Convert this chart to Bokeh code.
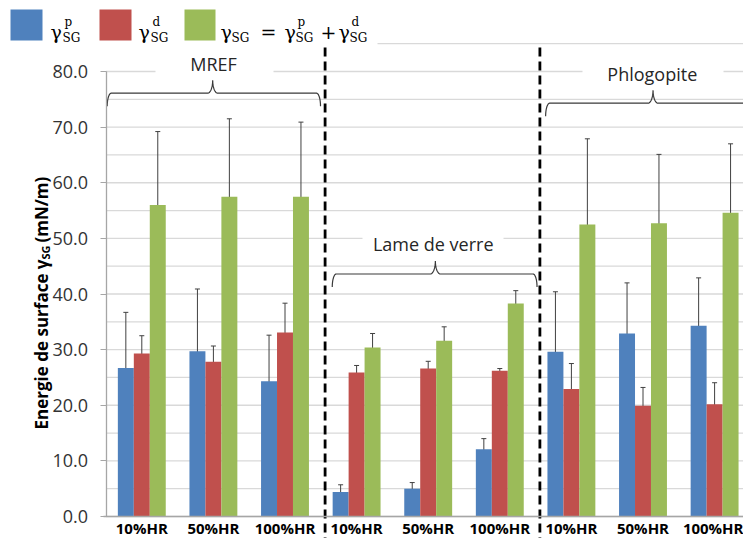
import math
from bokeh.plotting import figure
from bokeh.models import (Range1d, LinearAxis, FixedTicker, NumeralTickFormatter,
                          Whisker, TeeHead, ColumnDataSource)
from bokeh.core.properties import value
from bokeh.embed import file_html
from bokeh.resources import INLINE

# ---------------- data ----------------
substrates = ["MREF", "Lame de verre", "Phlogopite"]
humidity_labels = ["10%HR", "50%HR", "100%HR", "10%HR", "50%HR", "100%HR",
                   "10%HR", "50%HR", "100%HR"]
gamma_p = [26.7, 29.7, 24.3, 4.4, 5.0, 12.1, 29.6, 32.9, 34.3]
gamma_p_err = [10.0, 11.2, 8.3, 1.3, 1.1, 1.9, 10.8, 9.1, 8.6]
gamma_d = [29.3, 27.8, 33.1, 25.9, 26.6, 26.2, 22.9, 19.9, 20.2]
gamma_d_err = [3.2, 2.85, 5.25, 1.25, 1.3, 0.4, 4.6, 3.3, 3.85]
gamma_t = [56.0, 57.5, 57.5, 30.4, 31.6, 38.3, 52.5, 52.7, 54.6]
gamma_t_err = [13.2, 14.0, 13.4, 2.5, 2.5, 2.3, 15.4, 12.4, 12.4]
y_ticks = [0, 10, 20, 30, 40, 50, 60, 70, 80]
grid_levels = [0, 5, 10, 15, 20, 25, 30, 35, 40, 45, 50, 55, 60, 65, 70, 75, 80, 85]

# ---------------- geometry helpers (canvas pixels -> data) ----------------
W, H = 743, 538
PX0, UX = 105.5, 71.6
PY0 = 516.0
UY = (PY0 - 71.0) / 80.0


def px2x(px):
    return (px - PX0) / UX


def py2y(py):
    return (PY0 - py) / UY


def dpx(d):
    return d / UX


def dpy(d):
    return d / UY


p = figure(width=W, height=H, output_backend="svg", toolbar_location=None,
           x_range=Range1d(px2x(0), px2x(W)),
           y_range=Range1d(py2y(H), py2y(0)),
           x_axis_location=None, y_axis_location=None,
           min_border=0, min_border_left=0, min_border_right=0,
           min_border_top=0, min_border_bottom=0,
           outline_line_color=None, background_fill_color="white")
p.grid.visible = False

FONT = value("Open Sans")
MATH = value("DejaVu Serif")

# gridlines
n = len(grid_levels)
p.segment(x0=[0] * n, y0=grid_levels, x1=[px2x(760)] * n, y1=grid_levels,
          line_color="#d9d9d9", line_width=1.3, level="underlay")

# legend white box
p.quad(left=[px2x(-5)], right=[px2x(377)], bottom=[py2y(45)], top=[py2y(-5)],
       fill_color="white", line_color=None, level="underlay")

# bars
blue, red, green = "#4F81BD", "#C0504D", "#9BBB59"
bw = 0.223
xc = [i + 0.5 for i in range(len(gamma_p))]
series = [(gamma_p, gamma_p_err, -bw, blue),
          (gamma_d, gamma_d_err, 0.0, red),
          (gamma_t, gamma_t_err, bw, green)]
for vals, errs, off, col in series:
    xs = [x + off for x in xc]
    p.vbar(x=xs, top=vals, width=bw, bottom=0, fill_color=col, line_color=None)
    src = ColumnDataSource(dict(x=xs,
                                upper=[v + e for v, e in zip(vals, errs)],
                                lower=[v - e for v, e in zip(vals, errs)]))
    p.add_layout(Whisker(base="x", upper="upper", lower="lower", source=src,
                         dimension="height", line_color="#404040", line_width=1,
                         upper_head=TeeHead(size=5, line_color="#404040", line_width=1),
                         lower_head=TeeHead(size=5, line_color="#404040", line_width=1)))

# dashed separators
p.segment(x0=[3.06, 6.06], y0=[py2y(560)] * 2, x1=[3.06, 6.06], y1=[py2y(46)] * 2,
          line_color="black", line_width=2.8, line_dash="9 5")


# braces
def brace(xl, xr, xm, yh, tip=13, peak=13, re=4, rm=5):
    xs, ys = [], []
    N = 12
    cx, cy = xl + dpx(re), yh - dpy(tip)
    for k in range(N + 1):
        t = k / N * math.pi / 2
        xs.append(cx - dpx(re) * math.cos(t)); ys.append(cy + dpy(tip) * math.sin(t))
    cx, cy = xm - dpx(rm), yh + dpy(peak)
    for k in range(N + 1):
        t = k / N * math.pi / 2
        xs.append(cx + dpx(rm) * math.sin(t)); ys.append(cy - dpy(peak) * math.cos(t))
    cx, cy = xm + dpx(rm), yh + dpy(peak)
    for k in range(N, -1, -1):
        t = k / N * math.pi / 2
        xs.append(cx - dpx(rm) * math.sin(t)); ys.append(cy - dpy(peak) * math.cos(t))
    cx, cy = xr - dpx(re), yh - dpy(tip)
    for k in range(N, -1, -1):
        t = k / N * math.pi / 2
        xs.append(cx + dpx(re) * math.cos(t)); ys.append(cy + dpy(tip) * math.sin(t))
    p.line(xs, ys, line_color="#3a3a3a", line_width=1.2)


brace(0.017, 2.996, 1.49, 76.1)
brace(3.16, 6.02, 4.6, 43.6)
brace(6.14, 9.16, 7.64, 74.3)

# substrate labels with white backgrounds
lab_x = [1.502, 4.57, 7.63]
lab_y = [81.4, 48.9, 79.6]
box_l = [px2x(155), px2x(362), px2x(582)]
box_r = [px2x(273), px2x(503), px2x(723)]
box_b = [78.9, 46.6, 77.7]
box_t = [84.0, 51.5, 81.7]
p.quad(left=box_l, right=box_r, bottom=box_b, top=box_t, fill_color="white", line_color=None)
p.text(x=lab_x, y=lab_y, text=substrates, text_font=FONT, text_font_size="18px",
       text_color="#262626", text_align="center", text_baseline="middle")

# axes
xaxis = LinearAxis(fixed_location=0, bounds=(-0.03, 10),
                   ticker=FixedTicker(ticks=xc, minor_ticks=[]),
                   major_label_overrides={x: l for x, l in zip(xc, humidity_labels)},
                   axis_line_color="#a6a6a6", axis_line_width=1.3,
                   major_tick_line_color=None, minor_tick_line_color=None,
                   major_label_text_font="Open Sans", major_label_text_font_size="15px",
                   major_label_text_font_style="bold", major_label_text_color="black",
                   major_label_standoff=-5)
p.add_layout(xaxis, "below")

yaxis = LinearAxis(fixed_location=0, bounds=(0, 80),
                   ticker=FixedTicker(ticks=y_ticks, minor_ticks=[]),
                   formatter=NumeralTickFormatter(format="0.0"),
                   axis_line_color="#a6a6a6", axis_line_width=1.3,
                   major_tick_line_color="#a6a6a6", major_tick_out=6, major_tick_in=0,
                   minor_tick_line_color=None,
                   major_label_text_font="Open Sans", major_label_text_font_size="18px",
                   major_label_text_color="#333333", major_label_standoff=12)
p.add_layout(yaxis, "left")

# y axis title (rotated, with subscript)
ang = math.pi / 2
p.text(x=[px2x(41)], y=[py2y(259)], text=["Energie de surface γ"], angle=ang,
       text_font=FONT, text_font_size="17px", text_font_style="bold",
       text_align="right", text_baseline="alphabetic", text_color="black")
p.text(x=[px2x(45)], y=[py2y(259)], text=["SG"], angle=ang,
       text_font=FONT, text_font_size="11px", text_font_style="bold",
       text_align="left", text_baseline="alphabetic", text_color="black")
p.text(x=[px2x(41)], y=[py2y(242)], text=[" (mN/m)"], angle=ang,
       text_font=FONT, text_font_size="17px", text_font_style="bold",
       text_align="left", text_baseline="alphabetic", text_color="black")

# legend swatches
p.quad(left=[px2x(10), px2x(99), px2x(184)], right=[px2x(42), px2x(131), px2x(215)],
       bottom=[py2y(40)] * 3, top=[py2y(9)] * 3,
       fill_color=[blue, red, green], line_color=None)


# legend math text pieces
def mtext(px, py, s, size):
    p.text(x=[px2x(px)], y=[py2y(py)], text=[s], text_font=MATH,
           text_font_size=size, text_align="left", text_baseline="alphabetic",
           text_color="black")


BASE, SUP, SUB = 31.5, 21, 37
for gx, sx, sup in [(50, 62, "p"), (138, 150, "d")]:
    mtext(gx, BASE, "γ", "19px")
    mtext(sx + 2, SUP, sup, "12px")
    mtext(sx, SUB, "SG", "12px")
mtext(220, BASE, "γ", "19px")
mtext(231, SUB, "SG", "12px")
mtext(260, BASE, "=", "19px")
mtext(284, BASE, "γ", "19px")
mtext(297, SUP, "p", "12px")
mtext(295, SUB, "SG", "12px")
mtext(320, BASE, "+", "19px")
mtext(338, BASE, "γ", "19px")
mtext(351, SUP, "d", "12px")
mtext(349, SUB, "SG", "12px")

open("out.html", "w").write(file_html(p, INLINE))
